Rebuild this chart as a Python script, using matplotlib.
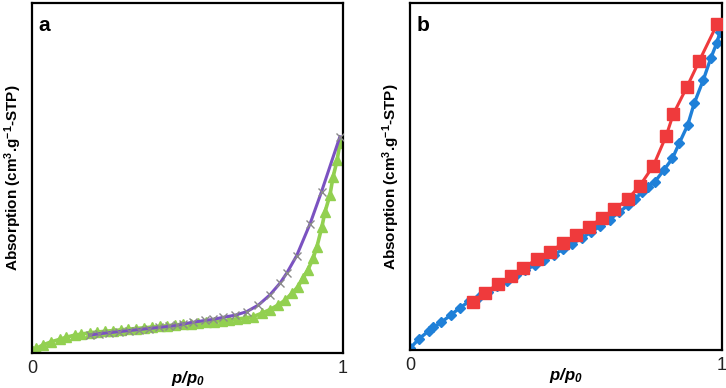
import matplotlib
matplotlib.use("Agg")
import matplotlib.pyplot as plt

plt.rcParams['font.family'] = ['Liberation Sans', 'DejaVu Sans']
plt.rcParams['mathtext.fontset'] = 'custom'
plt.rcParams['mathtext.rm'] = 'Liberation Sans'
plt.rcParams['mathtext.it'] = 'Liberation Sans:italic'
plt.rcParams['mathtext.bf'] = 'Liberation Sans:bold'
plt.rcParams['mathtext.bfit'] = 'Liberation Sans:italic:bold'

# Panel a: adsorption (green triangles) and desorption (purple, x markers)
a_ads_x = [0.003, 0.014, 0.035, 0.062, 0.089, 0.110, 0.137, 0.159, 0.186, 0.21, 0.235,
           0.26, 0.285, 0.31, 0.335, 0.36, 0.385, 0.41, 0.435, 0.46, 0.485, 0.51, 0.535,
           0.56, 0.585, 0.61, 0.635, 0.66, 0.685, 0.711, 0.740, 0.765, 0.791, 0.814,
           0.836, 0.855, 0.871, 0.887, 0.904, 0.916, 0.932, 0.942, 0.958, 0.968, 0.981,
           0.990]
a_ads_y = [0.005, 0.013, 0.023, 0.032, 0.039, 0.045, 0.051, 0.054, 0.058, 0.060, 0.062,
           0.064, 0.066, 0.068, 0.070, 0.072, 0.074, 0.076, 0.078, 0.080, 0.082, 0.084,
           0.086, 0.088, 0.090, 0.092, 0.094, 0.097, 0.100, 0.104, 0.114, 0.124, 0.137,
           0.151, 0.171, 0.189, 0.214, 0.237, 0.271, 0.303, 0.360, 0.403, 0.451, 0.503,
           0.550, 0.600]
a_des_x = [0.186, 0.215, 0.247, 0.279, 0.311, 0.343, 0.375, 0.407, 0.439, 0.467, 0.486,
           0.519, 0.556, 0.582, 0.615, 0.653, 0.690, 0.728, 0.765, 0.797, 0.819, 0.851,
           0.894, 0.931, 0.990]
a_des_y = [0.051, 0.055, 0.058, 0.061, 0.064, 0.067, 0.070, 0.073, 0.076, 0.079, 0.083,
           0.088, 0.093, 0.096, 0.102, 0.108, 0.118, 0.137, 0.166, 0.199, 0.228, 0.278,
           0.369, 0.461, 0.618]

# Panel b: adsorption (blue diamonds) and desorption (red squares)
b_ads_x = [0.0, 0.03, 0.06, 0.075, 0.10, 0.13, 0.16, 0.19, 0.22, 0.25, 0.28, 0.31, 0.34,
           0.37, 0.40, 0.43, 0.46, 0.49, 0.52, 0.55, 0.58, 0.61, 0.64, 0.67, 0.70, 0.72,
           0.745, 0.764, 0.785, 0.814, 0.841, 0.863, 0.890, 0.911, 0.940, 0.964, 0.983,
           0.994]
b_ads_y = [0.005, 0.033, 0.055, 0.065, 0.080, 0.100, 0.122, 0.140, 0.153, 0.168, 0.185,
           0.200, 0.215, 0.230, 0.245, 0.259, 0.274, 0.290, 0.306, 0.322, 0.340, 0.357,
           0.376, 0.397, 0.418, 0.435, 0.455, 0.471, 0.485, 0.519, 0.552, 0.596, 0.648,
           0.711, 0.778, 0.841, 0.884, 0.917]
b_des_x = [0.201, 0.240, 0.283, 0.324, 0.363, 0.406, 0.449, 0.489, 0.532, 0.575, 0.614,
           0.655, 0.698, 0.737, 0.780, 0.821, 0.844, 0.887, 0.927, 0.985]
b_des_y = [0.139, 0.165, 0.190, 0.214, 0.237, 0.261, 0.283, 0.307, 0.331, 0.355, 0.380,
           0.405, 0.435, 0.474, 0.531, 0.617, 0.680, 0.757, 0.833, 0.940]

xticks = [0, 1]
xtick_labels = ['0', '1']
panel_labels = ['a', 'b']

fig = plt.figure(figsize=(7.26, 3.88), dpi=100)
ax1 = fig.add_axes([32/726, 1-353/388, (343-32)/726, 350/388])
ax2 = fig.add_axes([410/726, 1-350/388, (722-410)/726, 347/388])

ax1.plot(a_ads_x, a_ads_y, color='#92D050', lw=2.6, marker='^', ms=6.5,
         mfc='#92D050', mec='#92D050', zorder=2)
ax1.plot(a_des_x, a_des_y, color='#7B52C1', lw=2.2, marker='x', ms=6,
         mec='#8a8a8a', mew=1.0, zorder=3)

ax2.plot(b_ads_x, b_ads_y, color='#1F80D8', lw=2.4, marker='D', ms=5,
         mfc='#1F80D8', mec='#1F80D8', zorder=2)
ax2.plot(b_des_x, b_des_y, color='#EF3A3C', lw=2.2, marker='s', ms=8.5,
         mfc='#EF3A3C', mec='#EF3A3C', zorder=3)

ylabel = r'Absorption (cm$^{\mathbf{3}}$.g$^{\mathbf{-1}}$-STP)'
for ax, lab in zip((ax1, ax2), panel_labels):
    ax.set_xlim(0, 1)
    ax.set_ylim(0, 1)
    ax.set_xticks(xticks)
    ax.set_xticklabels(xtick_labels)
    ax.set_yticks([])
    ax.tick_params(axis='x', length=0, pad=5, labelsize=13, labelcolor='#222222')
    for s in ax.spines.values():
        s.set_linewidth(1.6)
        s.set_color('black')
    ax.set_xlabel(r'$\mathbfit{p/p_0}$', fontsize=12, labelpad=-6)
    ax.set_ylabel(ylabel, fontsize=11, fontweight='bold', labelpad=6)
    ax.text(0.022, 0.962, lab, transform=ax.transAxes, fontsize=15,
            fontweight='bold', va='top', ha='left')

fig.savefig('out.png', dpi=100)
